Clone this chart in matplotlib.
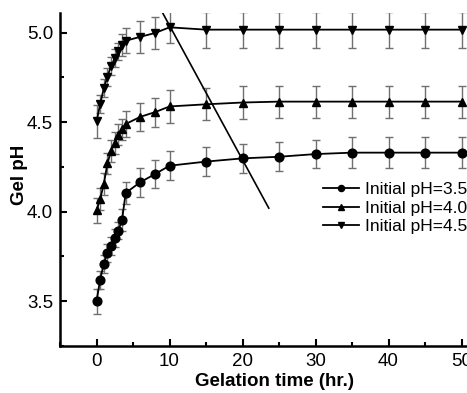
import matplotlib
matplotlib.use("Agg")
import matplotlib.pyplot as plt
from matplotlib.ticker import MultipleLocator

plt.rcParams['font.family'] = ['Liberation Sans', 'DejaVu Sans']

time_hr = [0, 0.5, 1, 1.5, 2, 2.5, 3, 3.5, 4, 6, 8, 10, 15, 20, 25, 30, 35, 40, 45, 50]

ph_35 = [3.50, 3.62, 3.71, 3.77, 3.81, 3.855, 3.895, 3.955, 4.105, 4.165, 4.21, 4.257,
         4.28, 4.298, 4.307, 4.322, 4.33, 4.33, 4.33, 4.33]
err_35 = [0.07, 0.05, 0.05, 0.05, 0.05, 0.05, 0.05, 0.06, 0.06, 0.08, 0.08, 0.08,
          0.08, 0.08, 0.08, 0.08, 0.085, 0.085, 0.085, 0.085]

ph_40 = [4.007, 4.07, 4.155, 4.27, 4.34, 4.385, 4.43, 4.46, 4.49, 4.53, 4.556, 4.588,
         4.60, 4.61, 4.615, 4.615, 4.615, 4.615, 4.615, 4.615]
err_40 = [0.07, 0.06, 0.06, 0.06, 0.06, 0.06, 0.06, 0.06, 0.07, 0.08, 0.08, 0.09,
          0.09, 0.09, 0.09, 0.09, 0.09, 0.09, 0.09, 0.09]

ph_45 = [4.504, 4.60, 4.69, 4.755, 4.815, 4.857, 4.895, 4.93, 4.955, 4.977, 4.998, 5.03,
         5.017, 5.017, 5.017, 5.017, 5.017, 5.017, 5.017, 5.017]
err_45 = [0.09, 0.05, 0.05, 0.05, 0.05, 0.05, 0.05, 0.06, 0.07, 0.09, 0.09, 0.09,
          0.10, 0.10, 0.10, 0.10, 0.10, 0.10, 0.10, 0.10]

labels = ['Initial pH=3.5', 'Initial pH=4.0', 'Initial pH=4.5']
markers = ['o', '^', 'v']

guide_x = [8.0, 23.6]
guide_y = [5.19, 4.02]

fig = plt.figure(figsize=(4.67, 3.93), dpi=100)
ax = fig.add_axes([60/467, 47/393, 407/467, 333/393])

series = [ph_35, ph_40, ph_45]
errs = [err_35, err_40, err_45]
handles = []
for y, e, m, lab in zip(series, errs, markers, labels):
    ax.errorbar(time_hr, y, yerr=e, fmt='none', ecolor='#707070', elinewidth=1.0,
                capsize=3, capthick=1.0, zorder=2)
    h, = ax.plot(time_hr, y, color='black', lw=1.3, marker=m, markersize=6.3,
                 markerfacecolor='black', markeredgecolor='black', label=lab, zorder=3)
    handles.append(h)

ax.plot(guide_x, guide_y, color='black', lw=1.2, zorder=4)

ax.set_xlim(-5, 50.75)
ax.set_ylim(3.25, 5.11)
ax.xaxis.set_major_locator(MultipleLocator(10))
ax.xaxis.set_minor_locator(MultipleLocator(5))
ax.yaxis.set_major_locator(MultipleLocator(0.5))
ax.yaxis.set_minor_locator(MultipleLocator(0.25))
ax.tick_params(which='both', direction='in', labelsize=13.5, width=1.5)
ax.tick_params(which='major', length=5)
ax.tick_params(which='minor', length=3)
ax.tick_params(axis='x', pad=5)
ax.tick_params(axis='y', pad=5)

for s in ['top', 'right']:
    ax.spines[s].set_visible(False)
for s in ['left', 'bottom']:
    ax.spines[s].set_linewidth(1.8)

ax.set_xlabel('Gelation time (hr.)', fontsize=13.5, fontweight='bold')
ax.xaxis.set_label_coords(0.528, -0.108)
ax.xaxis.label.set_va('center')
ax.set_ylabel('Gel pH', fontsize=13.5, fontweight='bold')
ax.yaxis.set_label_coords(-0.10, 0.513)
ax.yaxis.label.set_va('center')

leg = ax.legend(handles=handles, loc='upper left',
                bbox_to_anchor=(323/467, 1 - 182/393), bbox_transform=fig.transFigure,
                frameon=False, fontsize=12.5, handlelength=2.1, handletextpad=0.3,
                labelspacing=0.2, markerscale=0.7, borderaxespad=0, borderpad=0)

fig.savefig('out.png', dpi=100)
